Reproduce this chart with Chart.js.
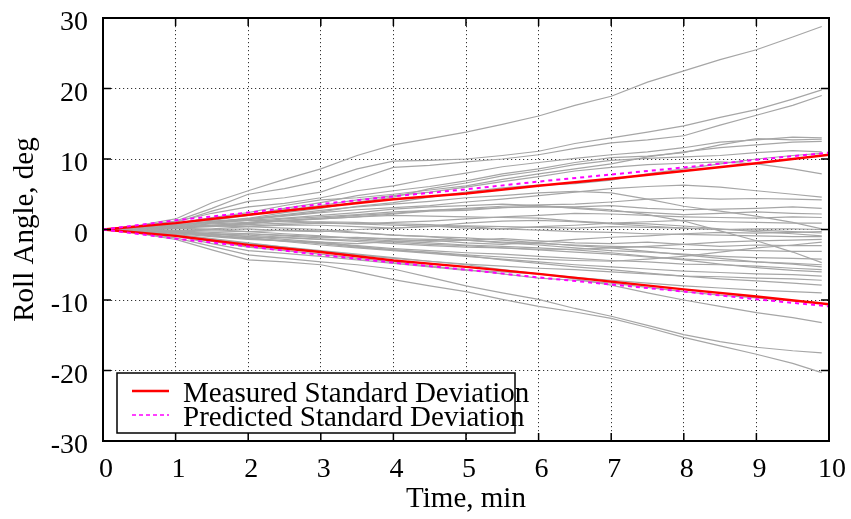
<!DOCTYPE html>
<html>
<head>
<meta charset="utf-8">
<script src="https://cdn.jsdelivr.net/npm/chart.js@4.4.1/dist/chart.umd.min.js"></script>
<style>
html,body{margin:0;padding:0;background:#fff;}
canvas{display:block;}
</style>
</head>
<body>
<canvas id="c" width="851" height="519"></canvas>
<script>
// ---- data ----
const xTickValues = [0,1,2,3,4,5,6,7,8,9,10];
const yTickValues = [-30,-20,-10,0,10,20,30];
const xTitle = 'Time, min';
const yTitle = 'Roll Angle, deg';

// time samples of the individual runs (minutes)
const runTime = [0,0.5,1,1.5,2,2.5,3,3.5,4,4.5,5,5.5,6,6.5,7,7.5,8,8.5,9,9.5,9.9];
// individual runs (roll angle, deg)
const runs = [
  [0,0.6,1.5,3.8,5.5,7.1,8.6,10.5,12.0,12.9,13.8,14.9,16.1,17.6,18.9,20.9,22.5,24.1,25.5,27.3,28.8],
  [0,0.5,1.2,3.0,5.0,5.8,6.9,8.6,9.7,9.8,10.0,10.5,11.1,12.2,13.0,13.8,14.7,15.9,17.0,18.5,19.8],
  [0,0.4,1.0,2.6,4.0,4.5,5.3,7.1,8.8,9.1,9.6,10.0,10.6,11.5,12.3,12.7,13.3,14.8,16.2,17.6,19.0],
  [0,0.5,1.1,2.3,3.2,3.7,4.5,5.5,6.2,7.2,8.0,8.9,9.5,10.1,10.6,11.0,11.6,12.4,12.7,13.1,13.0],
  [0,0.3,0.9,1.6,2.0,3.0,3.8,4.8,5.5,6.1,6.9,7.9,8.6,9.5,10.2,10.4,10.9,12.0,12.9,12.7,12.8],
  [0,0.3,0.8,1.7,2.4,3.4,4.2,4.5,5.0,5.6,6.2,7.1,7.9,8.6,9.3,10.3,11.0,11.6,12.0,12.4,12.5],
  [0,0.2,0.7,1.0,1.6,2.4,3.0,3.9,4.6,5.8,6.6,7.6,8.3,9.2,9.8,10.1,10.3,10.5,10.9,11.2,11.0],
  [0,0.4,0.6,1.2,1.5,2.0,2.5,3.3,3.8,4.6,5.3,5.9,6.3,6.5,7.0,7.9,8.6,9.3,10.0,10.5,10.8],
  [0,0.5,0.9,1.3,2.0,2.8,3.4,4.2,4.8,5.3,6.0,6.8,7.5,8.3,8.8,9.2,9.4,9.6,9.3,8.6,7.9],
  [0,0.1,0.4,0.8,1.0,1.5,1.8,2.1,2.5,2.7,3.0,3.3,3.5,3.6,3.9,4.3,4.5,4.3,4.4,4.3,4.2],
  [0,0.2,0.4,0.5,0.8,1.3,1.5,1.8,2.2,2.6,2.7,3.1,3.3,3.2,3.4,3.0,2.8,2.9,3.0,3.2,3.0],
  [0,0.1,0.3,0.5,0.5,0.7,0.9,0.8,1.0,1.2,1.5,1.8,2.0,2.3,2.2,2.0,1.8,1.7,1.6,1.8,1.7],
  [0,0.2,0.6,1.1,1.5,2.1,2.7,3.2,3.6,4.0,4.5,4.8,5.2,5.4,5.2,4.3,3.3,2.6,1.9,1.0,0.1],
  [0,0.1,0.2,0.0,0.1,-0.2,-0.3,0.0,0.2,0.4,0.5,0.4,0.3,0.2,0.4,0.3,0.2,0.0,0.1,0.1,0.0],
  [0,-0.1,-0.2,0.1,0.4,0.6,0.6,0.4,0.2,0.5,0.9,1.2,1.3,1.1,0.8,0.5,0.2,0.0,-0.1,-0.3,-0.5],
  [0,0.2,0.3,0.6,0.9,1.2,1.5,1.8,2.0,1.9,1.8,1.7,1.6,1.2,0.9,0.8,0.5,0.1,-0.3,-0.6,-0.9],
  [0,-0.1,-0.3,-0.6,-0.8,-1.1,-1.4,-1.7,-2.0,-2.3,-2.5,-2.6,-2.8,-2.8,-2.6,-2.4,-2.1,-1.8,-1.6,-1.5,-1.4],
  [0,-0.2,-0.4,-0.9,-1.2,-1.6,-2.0,-2.5,-2.9,-3.2,-3.6,-3.9,-4.2,-4.4,-4.5,-4.2,-3.8,-3.2,-2.6,-2.2,-1.8],
  [0,-0.1,-0.2,-0.4,-0.6,-0.8,-1.0,-1.2,-1.3,-1.4,-1.5,-1.8,-2.0,-2.2,-2.4,-2.5,-2.8,-2.9,-3.0,-3.1,-3.1],
  [0,0.2,0.4,0.6,0.9,1.3,1.6,2.0,2.3,2.7,2.9,3.1,3.2,3.1,2.8,2.1,1.2,-0.2,-1.6,-3.2,-4.7],
  [0,-0.2,-0.4,-0.6,-1.0,-1.2,-1.4,-1.5,-1.8,-2.1,-2.3,-2.6,-2.9,-3.2,-3.5,-3.9,-4.2,-4.4,-4.6,-4.8,-5.0],
  [0,0.1,-0.1,-0.2,-0.3,-0.1,-0.2,-0.5,-0.8,-1.0,-1.2,-1.5,-1.9,-2.3,-2.6,-3.1,-3.6,-4.1,-4.6,-4.9,-5.3],
  [0,-0.3,-0.6,-1.0,-1.4,-1.6,-1.9,-2.3,-2.7,-3.0,-3.3,-3.5,-3.8,-4.1,-4.4,-4.6,-4.9,-5.0,-5.2,-5.5,-5.7],
  [0,0.1,0.2,0.0,-0.3,-0.6,-0.9,-1.3,-1.6,-1.9,-2.2,-2.4,-2.6,-2.9,-3.3,-3.8,-4.3,-4.9,-5.4,-5.8,-6.0],
  [0,-0.2,-0.5,-0.8,-1.2,-1.7,-2.2,-2.6,-3.0,-3.4,-3.8,-4.2,-4.6,-5.0,-5.3,-5.6,-5.9,-6.1,-6.3,-6.4,-6.6],
  [0,-0.3,-0.7,-1.3,-1.9,-2.5,-3.1,-3.6,-4.1,-4.5,-4.9,-5.2,-5.5,-5.7,-6.0,-6.3,-6.6,-6.7,-6.9,-7.0,-7.2],
  [0,-0.1,-0.3,-0.6,-1.0,-1.4,-1.8,-2.4,-2.9,-3.3,-3.7,-4.3,-4.8,-5.3,-5.7,-6.2,-6.6,-7.0,-7.3,-7.6,-7.9],
  [0,-0.4,-0.8,-1.4,-2.0,-2.5,-3.0,-3.5,-4.0,-4.5,-5.0,-5.7,-6.3,-6.8,-7.2,-7.6,-8.0,-8.3,-8.6,-8.8,-9.0],
  [0,-0.4,-0.9,-1.7,-2.5,-3.0,-3.5,-4.1,-4.6,-5.2,-5.7,-6.3,-6.9,-7.2,-7.6,-8.2,-8.8,-9.3,-9.7,-10.1,-10.4],
  [0,-0.4,-0.9,-2.0,-3.0,-3.4,-3.8,-4.3,-4.8,-5.3,-5.8,-6.0,-6.3,-7.0,-7.9,-9.0,-10.0,-10.9,-11.8,-12.5,-13.2],
  [0,-0.5,-1.2,-2.4,-3.6,-4.1,-4.6,-5.0,-5.6,-6.8,-8.0,-9.0,-9.9,-11.2,-12.3,-13.6,-14.9,-15.9,-16.7,-17.2,-17.5],
  [0,-0.6,-1.4,-2.9,-4.3,-4.6,-5.0,-6.0,-7.1,-8.0,-8.8,-9.9,-10.9,-11.7,-12.6,-13.9,-15.3,-16.5,-17.7,-19.0,-20.3],
  [0,0.3,0.7,1.0,1.3,1.6,2.0,2.4,2.9,3.2,3.4,3.6,3.4,3.0,2.6,2.4,2.1,2.3,2.5,2.3,2.2],
  [0,-0.2,-0.5,-0.7,-0.6,-0.9,-1.2,-1.1,-1.4,-1.7,-1.5,-1.3,-1.6,-1.9,-2.0,-1.8,-2.1,-2.4,-2.2,-2.3,-2.3],
  [0,0.1,0.3,0.5,0.4,0.2,0.0,-0.4,-0.8,-1.0,-1.5,-1.9,-2.2,-2.6,-3.0,-3.2,-3.5,-3.8,-4.0,-4.1,-4.2],
  [0,0.3,0.6,1.1,1.4,1.9,2.4,2.8,3.1,3.4,3.9,4.3,4.8,5.3,5.8,6.1,6.3,6.0,5.5,5.0,4.6],
  [0,-0.2,-0.4,-0.9,-1.3,-1.6,-1.8,-2.0,-1.7,-1.5,-1.9,-2.1,-1.8,-1.4,-1.1,-0.9,-0.6,-0.4,-0.5,-0.4,-0.3],
  [0,0.2,0.5,0.9,1.3,1.2,1.0,0.8,0.6,0.5,0.2,0.1,0.4,0.6,0.9,1.1,1.3,1.1,1.0,0.9,0.9],
  [0,0.1,0.2,0.4,0.7,0.9,1.1,1.0,0.8,0.7,0.4,0.1,-0.1,-0.3,-0.4,-0.6,-0.7,-0.8,-0.9,-1.0,-1.0]
];

// standard deviation curves
const stdTime = [0,1,2,3,4,5,6,7,8,9,10];
const measuredUpper = [0,0.9,2.1,3.2,4.3,5.1,6.2,7.2,8.3,9.4,10.6];
const measuredLower = [0,-0.9,-2.2,-3.2,-4.4,-5.3,-6.3,-7.4,-8.5,-9.5,-10.6];
const predictedUpper = [0,1.3,2.4,3.6,4.7,5.7,6.8,7.8,8.8,9.9,10.9];
const predictedLower = [0,-1.3,-2.4,-3.6,-4.7,-5.7,-6.8,-7.8,-8.8,-9.9,-10.9];
const measuredLabel = 'Measured Standard Deviation';
const predictedLabel = 'Predicted Standard Deviation';

// ---- styles ----
const FONT = '"Liberation Serif", "Times New Roman", serif';
const pts = (xs, ys) => xs.map((x, i) => ({x: x, y: ys[i]}));

const datasets = [];
datasets.push({label: measuredLabel, data: pts(stdTime, measuredUpper), borderColor: '#ff0000', borderWidth: 2.4, order: 1, legend: true});
datasets.push({label: measuredLabel, data: pts(stdTime, measuredLower), borderColor: '#ff0000', borderWidth: 2.4, order: 1});
datasets.push({label: predictedLabel, data: pts(stdTime, predictedUpper), borderColor: '#ff00ff', borderWidth: 2, borderDash: [4, 4], order: 0, legend: true});
datasets.push({label: predictedLabel, data: pts(stdTime, predictedLower), borderColor: '#ff00ff', borderWidth: 2, borderDash: [4, 4], order: 0});
runs.forEach((r, i) => {
  datasets.push({label: 'run ' + (i + 1), data: pts(runTime, r), borderColor: '#a6a6a6', borderWidth: 1.2, order: 10});
});

const framePlugin = {
  id: 'frame',
  afterDatasetsDraw(chart) {
    const ctx = chart.ctx;
    const a = chart.chartArea;
    const xs = chart.scales.x, ys = chart.scales.y;
    ctx.save();
    // inward tick marks
    ctx.strokeStyle = '#000';
    ctx.lineWidth = 1.5;
    const tl = 8;
    ctx.beginPath();
    xTickValues.forEach(v => {
      const px = xs.getPixelForValue(v);
      ctx.moveTo(px, a.bottom); ctx.lineTo(px, a.bottom - tl);
      ctx.moveTo(px, a.top); ctx.lineTo(px, a.top + tl);
    });
    yTickValues.forEach(v => {
      const py = ys.getPixelForValue(v);
      ctx.moveTo(a.left, py); ctx.lineTo(a.left + tl, py);
      ctx.moveTo(a.right, py); ctx.lineTo(a.right - tl, py);
    });
    ctx.stroke();
    // frame
    ctx.lineWidth = 2;
    ctx.strokeRect(a.left, a.top, a.right - a.left, a.bottom - a.top);

    // legend
    const lx = a.left + 14, ly = a.bottom - 68, lw = 398, lh = 60;
    ctx.fillStyle = '#fff';
    ctx.fillRect(lx, ly, lw, lh);
    ctx.lineWidth = 1.5;
    ctx.strokeStyle = '#000';
    ctx.strokeRect(lx, ly, lw, lh);
    const entries = chart.data.datasets.filter(d => d.legend);
    ctx.font = '29px ' + FONT;
    ctx.textAlign = 'left';
    ctx.textBaseline = 'alphabetic';
    entries.forEach((d, i) => {
      const rowY = ly + 18 + i * 24;
      ctx.beginPath();
      ctx.strokeStyle = d.borderColor;
      ctx.lineWidth = i === 0 ? 2.4 : 1.5;
      ctx.setLineDash(d.borderDash ? [4, 3] : []);
      ctx.moveTo(lx + 15, rowY); ctx.lineTo(lx + 52, rowY);
      ctx.stroke();
      ctx.setLineDash([]);
      ctx.fillStyle = '#000';
      ctx.fillText(d.label, lx + 66, rowY + 11);
    });
    ctx.restore();
  }
};

const tickFont = {family: FONT, size: 28};
new Chart(document.getElementById('c'), {
  type: 'line',
  data: {datasets: datasets},
  options: {
    responsive: false,
    animation: false,
    layout: {padding: {top: 18, right: 22, left: 0, bottom: 0}},
    plugins: {legend: {display: false}, tooltip: {enabled: false}},
    elements: {point: {radius: 0}, line: {tension: 0}},
    scales: {
      x: {
        type: 'linear', min: 0, max: 10,
        afterBuildTicks: s => { s.ticks = xTickValues.map(v => ({value: v})); },
        ticks: {font: tickFont, color: '#000', padding: 12, labelOffset: 3, autoSkip: false, maxRotation: 0,
          callback: v => String(v)},
        grid: {color: '#333', lineWidth: 1, drawTicks: false},
        border: {display: false, dash: [1.2, 2.8]},
        title: {display: true, text: xTitle, font: {family: FONT, size: 29}, color: '#000', padding: {top: 0, bottom: 2}},
        afterFit: s => { s.height = 78; s.paddingLeft = 0; s.paddingRight = 0; }
      },
      y: {
        type: 'linear', min: -30, max: 30,
        afterBuildTicks: s => { s.ticks = yTickValues.map(v => ({value: v})); },
        ticks: {font: tickFont, color: '#000', padding: 15, labelOffset: 5, callback: v => String(v)},
        grid: {color: '#333', lineWidth: 1, drawTicks: false},
        border: {display: false, dash: [1.2, 2.8]},
        title: {display: true, text: yTitle, font: {family: FONT, size: 29}, color: '#000', padding: {top: 8, bottom: 0}},
        afterFit: s => { s.width = 103; s.paddingTop = 0; s.paddingBottom = 0; }
      }
    }
  },
  plugins: [framePlugin]
});
</script>
</body>
</html>
